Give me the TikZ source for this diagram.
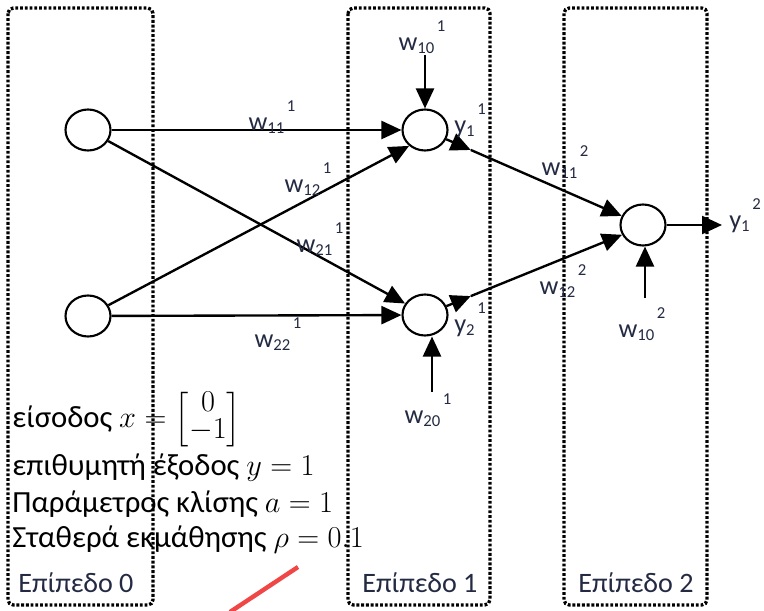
\documentclass[tikz,border=0pt]{standalone}
\usepackage{amsmath}
\usepackage{fontspec}
\setmainfont{Carlito}
\usepackage{tikz}
\usetikzlibrary{arrows.meta, positioning, calc, shapes.geometric}
\definecolor{labelnavy}{RGB}{35,42,66}
\definecolor{markred}{RGB}{240,70,70}
\newcommand{\wlab}[3]{#1\raisebox{-0.25ex}{\fontsize{9.5}{11}\selectfont #2}\kern1.5pt\raisebox{1.5ex}{\fontsize{9.5}{11}\selectfont #3}}

\begin{document}
\begin{tikzpicture}[x=0.02cm, y=-0.02cm,
    layerbox/.style={draw, line width=1.9pt, dash pattern=on 1.6pt off 1.1pt, rounded corners=3pt},
    neuron/.style={ellipse, draw, line width=1.2pt, fill=white, minimum width=0.9cm, minimum height=0.82cm, inner sep=0pt},
    arrow/.style={draw, line width=1.35pt, -{Triangle[length=4mm,width=3.6mm]}},
    wlabel/.style={font=\fontsize{15}{18}\selectfont, text=labelnavy, inner sep=0pt},
    infotext/.style={anchor=base west, font=\fontsize{17.5}{20}\selectfont, inner sep=0pt},
    layerlabel/.style={anchor=base, font=\fontsize{16}{19}\selectfont, text=labelnavy, inner sep=0pt}
]
\useasboundingbox (0,0) rectangle (764,611);

% layers
\draw [layerbox] (8,8) rectangle (153,605);
\draw [layerbox] (348,8) rectangle (490,605);
\draw [layerbox] (564,8) rectangle (707,605);

% neurons
\node [neuron] (in1) at (88,130) {};
\node [neuron] (in2) at (88,316) {};
\node [neuron] (h1) at (425,130) {};
\node [neuron] (h2) at (425,315) {};
\node [neuron] (out) at (643,225) {};

\coordinate (m1) at ($(h1)!0.21!(out)$);
\coordinate (m2) at ($(h2)!0.21!(out)$);
\coordinate (yout) at (722,225);
\coordinate (b1) at (425,55);
\coordinate (b2) at (432,392);
\coordinate (b3) at (645,298);

% connections
\draw [arrow] (in1) -- (h1);
\draw [arrow] (in1) -- (h2.150);
\draw [arrow] (in2) -- (h1.225);
\draw [arrow] (in2) -- (h2);
\draw [arrow] (h1) -- (m1);
\draw [arrow] (m1) -- (out.157);
\draw [arrow] (h2) -- (m2);
\draw [arrow] (m2) -- (out.205);
\draw [arrow] (out) -- (yout);
\draw [arrow] (b1) -- (h1);
\draw [arrow] (b2) -- (b2 |- h2.south);
\draw [arrow] (b3) -- (b3 |- out.south);

% weights and outputs
\node [wlabel] (w101) at (422,37) {\wlab{w}{10}{1}};
\node [wlabel] (w111) at (272,117) {\wlab{w}{11}{1}};
\node [wlabel] (w121) at (308,179) {\wlab{w}{12}{1}};
\node [wlabel] (w211) at (320,239) {\wlab{w}{21}{1}};
\node [wlabel] (w221) at (278,334) {\wlab{w}{22}{1}};
\node [wlabel] (w201) at (428,410) {\wlab{w}{20}{1}};
\node [wlabel] (y11) at (470,121) {\wlab{y}{1}{1}};
\node [wlabel] (y21) at (470,320) {\wlab{y}{2}{1}};
\node [wlabel] (w112) at (565,162) {\wlab{w}{11}{2}};
\node [wlabel] (w122) at (563,281) {\wlab{w}{12}{2}};
\node [wlabel] (w102) at (642,324) {\wlab{w}{10}{2}};
\node [wlabel] (y12) at (745,216) {\wlab{y}{1}{2}};

% given values
\node [infotext] (input) at (12,427) {είσοδος $x=\renewcommand{\arraystretch}{0.78}\begin{bmatrix}0\\-1\end{bmatrix}$};
\node [infotext] (target) at (12,475) {επιθυμητή έξοδος $y=1$};
\node [infotext] (slope) at (12,512) {Παράμετρος κλίσης $a=1$};
\node [infotext] (rate) at (12,547) {Σταθερά εκμάθησης $\rho=0.1$};

\node [layerlabel] (lay0) at (76,592) {Επίπεδο 0};
\node [layerlabel] (lay1) at (420,592) {Επίπεδο 1};
\node [layerlabel] (lay2) at (636,592) {Επίπεδο 2};

\draw [markred, line width=2.5pt] (230,612) -- (298,567);
\end{tikzpicture}
\end{document}
